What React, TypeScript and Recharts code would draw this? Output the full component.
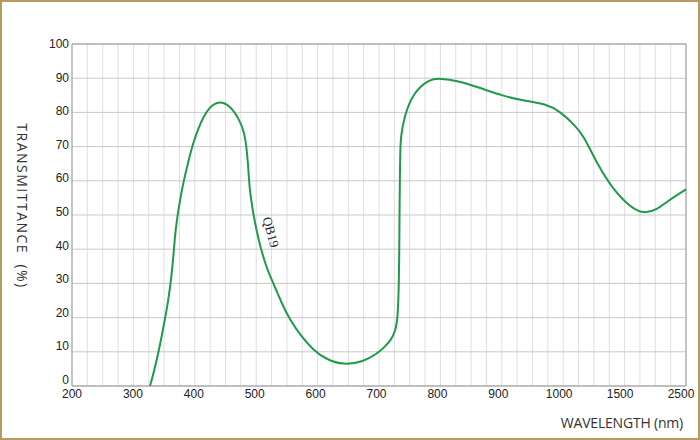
import React from 'react';
import {
  LineChart,
  Line,
  XAxis,
  YAxis,
  CartesianGrid,
  ReferenceLine,
  ReferenceDot,
  Label
} from 'recharts';

// axis tick labels (the x axis is stretched: equal spacing per label)
const xTickLabels = [200, 300, 400, 500, 600, 700, 800, 900, 1000, 1500, 2500];
const yTicks = [0, 10, 20, 30, 40, 50, 60, 70, 80, 90, 100];

// QB19 curve
const wavelength = [
  327, 332.4, 338, 344.4, 351, 356.9, 362, 365, 367.7, 370, 375.9, 381, 389.4,
  397, 405.7, 414, 424.8, 438, 457, 473, 481, 484, 486.6, 488, 489.6, 492, 495,
  500.5, 506, 517, 528, 541.5, 555, 574, 593, 614, 642, 675, 696, 707, 720, 726,
  730.5, 732.5, 733.2, 733.6, 734, 734.5, 735.5, 741, 755, 782, 801, 826, 859,
  903, 930, 973, 995, 1080, 1164, 1273, 1409, 1588, 1805, 2023, 2186, 2500
];
const transmittance = [
  0, 3.5, 7.6, 12.9, 19.3, 25.1, 32, 37.8, 43.7, 47.6, 54.4, 59.2, 65.6, 70.9,
  75.3, 78.7, 81.7, 83.3, 82.2, 77.8, 73.9, 70, 65.1, 61.2, 57.3, 54.4, 50.5,
  45.6, 41.2, 34.4, 30, 24.2, 19.3, 14.4, 10.5, 7.8, 6.1, 7.1, 9.4, 11, 13.5,
  15.9, 19.3, 30, 44, 54.4, 60, 68, 73, 78.7, 85.6, 89.8, 89.9, 89.3, 87.5,
  84.8, 83.6, 82.5, 80.2, 76.8, 73.4, 65.1, 57.3, 52.4, 50.3, 51.5, 53.9, 57.5
];

const seriesName = 'QB19';
const seriesLabelAt = { wavelength: 524, value: 45 };

// wavelength -> position on the piecewise axis (0..10)
const toPos = (w: number) => {
  for (let i = 0; i < xTickLabels.length - 1; i++) {
    const a = xTickLabels[i];
    const b = xTickLabels[i + 1];
    if (w <= b || i === xTickLabels.length - 2) {
      return i + (w - a) / (b - a);
    }
  }
  return 0;
};

const data = wavelength.map((w, i) => ({ pos: toPos(w), t: transmittance[i] }));

const xGridTicks: number[] = [];
for (let i = 0; i <= (xTickLabels.length - 1) * 4; i++) xGridTicks.push(i / 4);

const tickFont = 'Liberation Sans, Arial, sans-serif';
const titleFont = 'Open Sans, sans-serif';

const XTick = (props: any) => {
  const { x, y, payload } = props;
  const v = payload.value;
  if (!Number.isInteger(v)) return null;
  return (
    <text x={x - v * 0.5} y={y + 8} textAnchor="middle" dominantBaseline="central"
      fontFamily={tickFont} fontSize={12} fill="#222">
      {xTickLabels[v]}
    </text>
  );
};

const YTick = (props: any) => {
  const { x, y, payload } = props;
  return (
    <text x={x} y={y - 0.06 * (100 - payload.value)} textAnchor="end" dominantBaseline="central"
      fontFamily={tickFont} fontSize={12} fill="#222">
      {payload.value}
    </text>
  );
};

export default function App() {
  return (
    <div style={{ position: 'fixed', left: 0, top: 0, width: 700, height: 440, background: '#fff' }}>
      <LineChart
        width={700}
        height={440}
        data={data}
        margin={{ top: 44, right: 14, bottom: 0, left: 12 }}>
        <CartesianGrid horizontal={false} stroke="#dedede" />
        <CartesianGrid vertical={false} stroke="#c8c8c8" />
        <XAxis
          dataKey="pos"
          type="number"
          domain={[0, xTickLabels.length - 1]}
          ticks={xGridTicks}
          interval={0}
          height={54}
          tickLine={false}
          tickSize={0}
          tickMargin={0}
          stroke="#999"
          tick={<XTick />}>
          <Label
            content={() => (
              <text x={683} y={428} textAnchor="end" fontFamily={titleFont} fontSize={14}
                letterSpacing={-0.2} fill="#333">
                WAVELENGTH (nm)
              </text>
            )}
          />
        </XAxis>
        <YAxis
          type="number"
          domain={[0, 100]}
          ticks={yTicks}
          width={60}
          tickLine={false}
          tickSize={0}
          tickMargin={3}
          stroke="#999"
          tick={<YTick />}>
          <Label
            content={() => (
              <text
                transform="translate(17,206) rotate(90)"
                textAnchor="middle"
                fontFamily={titleFont}
                fontSize={14}
                letterSpacing={1.5}
                fill="#333"
                style={{ whiteSpace: 'pre' }}>
                {'TRANSMITTANCE  (%)'}
              </text>
            )}
          />
        </YAxis>
        <ReferenceLine y={100} stroke="#999" />
        <ReferenceLine x={xTickLabels.length - 1} stroke="#999" />
        <Line
          type="basis"
          dataKey="t"
          stroke="#1e9a4a"
          strokeWidth={2}
          dot={false}
          isAnimationActive={false}
        />
        <ReferenceDot
          x={toPos(seriesLabelAt.wavelength)}
          y={seriesLabelAt.value}
          r={0}
          stroke="none"
          label={(props: any) => {
            const cx = props.viewBox ? props.viewBox.x + (props.viewBox.width || 0) / 2 : 0;
            const cy = props.viewBox ? props.viewBox.y + (props.viewBox.height || 0) / 2 : 0;
            return (
              <text
                x={cx}
                y={cy}
                transform={`rotate(75, ${cx}, ${cy})`}
                textAnchor="middle"
                dominantBaseline="central"
                fontFamily="Liberation Serif, serif"
                fontSize={13}
                fill="#222">
                {seriesName}
              </text>
            );
          }}
        />
      </LineChart>
      <div
        style={{
          position: 'absolute',
          inset: 0,
          border: '2px solid #b89b5e',
          boxSizing: 'border-box',
          pointerEvents: 'none'
        }}
      />
    </div>
  );
}
